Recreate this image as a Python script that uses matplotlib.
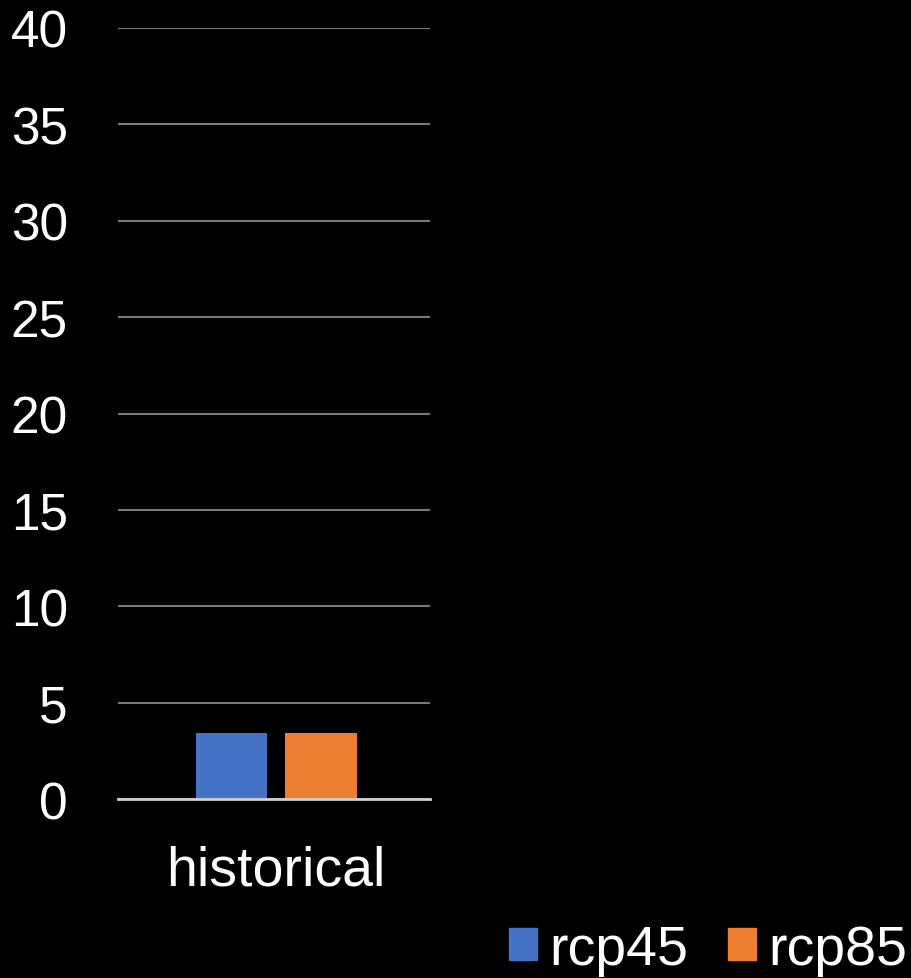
import matplotlib
matplotlib.use('Agg')
import matplotlib.pyplot as plt
from matplotlib.patches import Patch

# Data
categories = ["historical"]
series_names = ["rcp45", "rcp85"]
rcp45 = [3.4]
rcp85 = [3.4]
colors = ["#4472c4", "#ed7d31"]

plt.rcParams['font.family'] = ['Liberation Sans', 'DejaVu Sans']

fig = plt.figure(figsize=(9.11, 9.79), dpi=100, facecolor='black')
ax = fig.add_axes([0.1295, 0.1828, 0.3425, 0.7876], facecolor='black')

x = list(range(len(categories)))
width = 0.228
offset = 0.1435
shift = 0.007
ax.bar([i - offset + shift for i in x], rcp45, width, color=colors[0], zorder=3)
ax.bar([i + offset + shift for i in x], rcp85, width, color=colors[1], zorder=3)

ax.set_xlim(-0.5, len(categories) - 0.5)
ax.set_ylim(0, 40)
ax.set_yticks(range(0, 41, 5))
ax.set_xticks([i + shift for i in x])
ax.set_xticklabels(categories)

ax.yaxis.grid(True, color='#7a7a7a', linewidth=1.5, zorder=0)
ax.axhline(0, color='#d0d0d0', linewidth=2, zorder=4, clip_on=False)
for s in ax.spines.values():
    s.set_visible(False)
ax.tick_params(axis='both', length=0, colors='white')
ax.tick_params(axis='y', labelsize=37, pad=36)
ax.tick_params(axis='x', labelsize=40, pad=33)

handles = [Patch(color=c) for c in colors]
fig.legend(handles, series_names, loc='lower right', bbox_to_anchor=(0.996, 0.002),
           ncol=2, frameon=False, fontsize=40, labelcolor='white',
           borderpad=0, borderaxespad=0,
           handlelength=0.5, handleheight=0.5, handletextpad=0.22,
           columnspacing=0.72)

fig.savefig("out.png", dpi=100, facecolor='black')
